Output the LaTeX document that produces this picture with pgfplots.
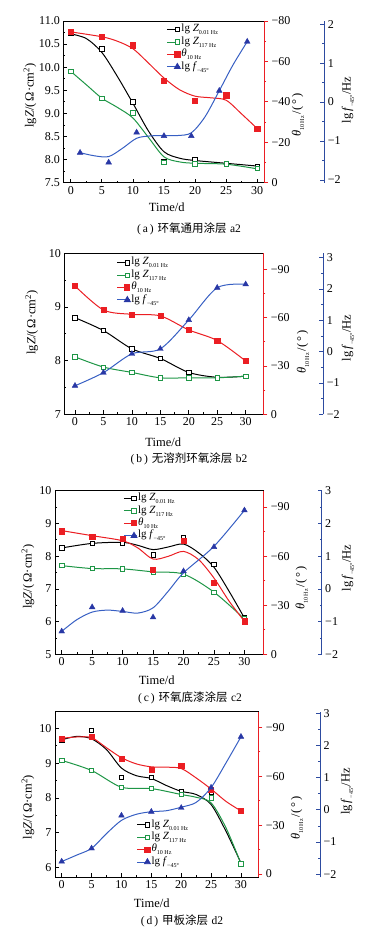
\documentclass[border=0pt]{standalone}
\usepackage{pgfplots}
\pgfplotsset{compat=1.18}
\usepackage{pgfplotstable}
\usepackage{fontspec}
\setmainfont{Liberation Serif}
\newfontfamily\cjk{Noto Sans CJK SC}
\definecolor{cgreen}{RGB}{30,150,70}
\definecolor{cred}{RGB}{235,30,35}
\definecolor{cblue}{RGB}{40,55,165}
\definecolor{cbline}{RGB}{55,95,195}
\definecolor{cbaxis}{RGB}{45,75,160}
\newcommand{\sub}[1]{\raisebox{-0.6ex}{\fontsize{6}{6}\selectfont #1}}
\newcommand{\fs}{\fontsize{12}{13}\selectfont}
\newcommand{\fl}{\fontsize{12.5}{14}\selectfont}
\pgfplotsset{
 /pgf/number format/assume math mode=true,
 tick label style={font=\fs},
 mainax/.style={scale only axis, anchor=south west, xtick={0,5,...,30}, minor x tick num=1, minor y tick num=1,
   xtick pos=bottom, ytick pos=left, tick align=inside, major tick length=4pt, minor tick length=2pt,
   axis line style={line width=0.8pt}, tick style={line width=0.7pt, black}},
 redax/.style={scale only axis, anchor=south west, axis y line*=right, axis x line=none, tick align=outside,
   minor y tick num=1, major tick length=4pt, minor tick length=2pt,
   y axis line style={cred, line width=0.8pt}, ytick style={cred, line width=0.7pt},
   ytick={0,30,60,90}, yticklabels={0,−30,−60,−90}},
 blueax/.style={scale only axis, anchor=south east, width=1pt, xmin=0, xmax=1, axis y line*=right, axis x line=none,
   tick align=inside, minor y tick num=1, major tick length=4pt, minor tick length=2pt,
   y axis line style={cbaxis, line width=0.8pt}, ytick style={cbaxis, line width=0.7pt},
   ytick={-2,-1,0,1,2,3}, yticklabels={−2,−1,0,1,2,3}},
 blueplot/.style={scale only axis, anchor=south west, hide axis, legend cell align=left,
   legend style={draw=none, fill=none, inner sep=0pt, outer sep=0pt, anchor=north west,
     font=\fontsize{11}{12}\selectfont, nodes={inner sep=0.8pt, text height=7.6pt, text depth=3.2pt}},
   legend image code/.code={\draw[mark repeat=2,mark phase=2,##1] plot coordinates {(0cm,0cm) (0.36cm,0cm) (0.46cm,0cm)};}},
 zlm/.style={only marks, mark=square*, mark size=2.2pt, mark options={draw=black, fill=white, line width=0.7pt}},
 zhm/.style={only marks, mark=square*, mark size=2.2pt, mark options={draw=cgreen, fill=white, line width=0.7pt}},
 thm/.style={only marks, mark=square*, mark size=2.6pt, mark options={draw=cred, fill=cred}},
 fm/.style={only marks, mark=triangle*, mark size=3.3pt, mark options={draw=cblue, fill=cblue}},
 zlc/.style={smooth, no marks, black, line width=1pt},
 zhc/.style={smooth, no marks, cgreen, line width=1pt},
 thc/.style={smooth, no marks, cred, line width=1pt},
 fc/.style={smooth, no marks, cbline, line width=1pt},
 legimgs/.style={},
}
\newcommand{\legs}{%
 \addlegendimage{black, line width=0.9pt, mark=square*, mark size=2.2pt, mark options={fill=white, line width=0.7pt}}
 \addlegendentry{lg \textit{Z}\sub{0.01 Hz}}
 \addlegendimage{cgreen, line width=0.9pt, mark=square*, mark size=2.2pt, mark options={fill=white, line width=0.7pt}}
 \addlegendentry{lg \textit{Z}\sub{117 Hz}}
 \addlegendimage{cred, line width=0.9pt, mark=square*, mark size=2.6pt, mark options={fill=cred}}
 \addlegendentry{\textit{θ}\sub{10 Hz}}
 \addlegendimage{cbline, line width=0.9pt, mark=triangle*, mark size=3.3pt, mark options={draw=cblue, fill=cblue}}
 \addlegendentry{lg \textit{f}\sub{−45°}}
}
% ---------- data ----------
\pgfplotstableread{
x zl zh th
0 10.73 9.91 74.6
5 10.40 9.32 72.1
10 9.25 9.01 68.0
15 7.95 7.94 50.4
20 7.99 7.91 40.5
25 7.92 7.91 43.3
30 7.86 7.81 26.8
}\Amk
\pgfplotstableread{
x f
1.5 -1.30
6.1 -1.55
10.6 -0.78
15.0 -0.87
19.4 -0.87
23.9 0.29
28.4 1.55
}\Afm
\pgfplotstableread{
x zl zh th f
0 8.80 8.07 79.7 -1.09
5 8.56 7.88 64.8 -0.67
10 8.22 7.78 62.1 -0.07
15 8.04 7.68 61.1 0.09
20 7.78 7.68 52.4 1.01
25 7.69 7.68 45.8 2.04
30 7.71 7.71 33.1 2.15
}\Bmk
\pgfplotstableread{
x zl zh th f
0 8.25 7.71 75.2 -1.30
5 8.39 7.62 72.1 -0.56
10 8.41 7.61 70.7 -0.67
15 8.04 7.52 51.7 -0.87
20 8.58 7.45 69.4 0.54
25 7.74 6.90 44.0 1.28
30 6.11 6.08 20.2 2.40
}\Cmk
\pgfplotstableread{
x zl zh th f
0 9.67 9.08 83.0 -1.61
5 9.94 8.79 84.2 -1.20
10 8.59 8.31 70.8 -0.18
15 8.59 8.27 64.0 -0.06
20 8.19 8.10 66.5 0.06
25 8.16 8.00 51.7 0.69
30 6.12 6.11 38.7 2.27
}\Dmk
\begin{document}
\begin{tikzpicture}
\path[use as bounding box] (0,0) rectangle (374pt,941pt);
% ================= (a) =================
\begin{axis}[mainax, at={(63.3pt,758.3pt)}, width=200.7pt, height=161.7pt,
  xmin=-1.2, xmax=31.1, ymin=7.5, ymax=11.0, ytick={7.5,8,8.5,9,9.5,10,10.5,11},
  yticklabel style={/pgf/number format/.cd, fixed, fixed zerofill, precision=1}]
\addplot[zlc] coordinates {(0,10.72)(2.5,10.62)(5,10.32)(7.5,9.8)(10,9.22)(12.5,8.62)(15,8.17)(17.5,8.03)(20,7.98)(25,7.92)(30,7.86)};
\addplot[zhc] coordinates {(0,9.91)(2.5,9.62)(5,9.33)(7.5,9.13)(10,8.9)(12.5,8.48)(15,8.06)(17.5,7.95)(20,7.92)(25,7.90)(30,7.80)};
\addplot[zlm] table[x=x,y=zl] {\Amk};
\addplot[zhm] table[x=x,y=zh] {\Amk};
\end{axis}
\begin{axis}[redax, at={(63.3pt,758.3pt)}, width=200.7pt, height=161.7pt,
  xmin=-1.2, xmax=31.1, ymin=0, ymax=80, ytick={0,20,40,60,80}, yticklabels={0,−20,−40,−60,−80}]
\addplot[thc] coordinates {(0,74.6)(5,72.2)(7.5,70)(10,66.3)(12.5,59.2)(15,51.8)(17.5,46)(20,42.8)(22.5,42)(25,40.8)(27.5,34)(30,26.8)};
\addplot[thm] table[x=x,y=th] {\Amk};
\end{axis}
\begin{axis}[blueax, at={(324.3pt,758.3pt)}, height=161.7pt, ymin=-2.07, ymax=2.08,
  ytick={-2,-1,0,1,2}, yticklabels={−2,−1,0,1,2}]
\addplot[draw=none] coordinates {(0,0)};
\end{axis}
\begin{axis}[blueplot, at={(63.3pt,758.3pt)}, width=200.7pt, height=161.7pt,
  xmin=-1.2, xmax=31.1, ymin=-2.07, ymax=2.08, legend style={at={(0.515,0.985)}}]
\legs
\addplot[fc, forget plot] coordinates {(1.5,-1.30)(3.8,-1.38)(6.1,-1.40)(8.3,-1.19)(10.6,-0.93)(12.8,-0.87)(15,-0.86)(17.2,-0.86)(19.4,-0.79)(21.6,-0.38)(23.9,0.29)(26.1,0.95)(28.4,1.55)};
\addplot[fm, forget plot] table[x=x,y=f] {\Afm};
\end{axis}
\node[rotate=90, font=\fl] at (30pt,845.5pt) {lg\textit{Z}/(\,Ω·cm\textsuperscript{2})};
\node[rotate=90, font=\fl] at (298pt,826pt) {\textit{θ}\sub{10 Hz}\,/(\,°\,)};
\node[rotate=90, font=\fl] at (348pt,841pt) {lg\,\textit{f}\sub{−45°}/Hz};
\node[font=\fl] at (166.7pt,734pt) {Time/d};
\node[font=\fontsize{11.5}{13}\selectfont] at (189pt,712pt) {(\,a\,)\hspace{0.35em}{\cjk 环氧通用涂层}\hspace{0.3em}a2};
% ================= (b) =================
\begin{axis}[mainax, at={(64.3pt,526.7pt)}, width=199pt, height=161pt,
  xmin=-1.88, xmax=33.1, ymin=7, ymax=10, ytick={7,8,9,10}]
\addplot[zlc] table[x=x,y=zl] {\Bmk};
\addplot[zhc] table[x=x,y=zh] {\Bmk};
\addplot[zlm] table[x=x,y=zl] {\Bmk};
\addplot[zhm] table[x=x,y=zh] {\Bmk};
\end{axis}
\begin{axis}[redax, at={(64.3pt,526.7pt)}, width=199pt, height=161pt,
  xmin=-1.88, xmax=33.1, ymin=0, ymax=100]
\addplot[thc] table[x=x,y=th] {\Bmk};
\addplot[thm] table[x=x,y=th] {\Bmk};
\end{axis}
\begin{axis}[blueax, at={(323.3pt,526.7pt)}, height=161pt, ymin=-2, ymax=3.14]
\addplot[draw=none] coordinates {(0,0)};
\end{axis}
\begin{axis}[blueplot, at={(64.3pt,526.7pt)}, width=199pt, height=161pt,
  xmin=-1.88, xmax=33.1, ymin=-2, ymax=3.14, legend style={at={(0.263,0.98)}}]
\legs
\addplot[fc, forget plot] table[x=x,y=f] {\Bmk};
\addplot[fm, forget plot] table[x=x,y=f] {\Bmk};
\end{axis}
\node[rotate=90, font=\fl] at (31.7pt,618.5pt) {lg\textit{Z}/(\,Ω·cm\textsuperscript{2})};
\node[rotate=90, font=\fl] at (303pt,589pt) {\textit{θ}\sub{10 Hz}\,/(\,°\,)};
\node[rotate=90, font=\fl] at (348pt,603pt) {lg\,\textit{f}\sub{−45°}/Hz};
\node[font=\fl] at (163.3pt,499pt) {Time/d};
\node[font=\fontsize{11.5}{13}\selectfont] at (189pt,482pt) {(\,b\,)\hspace{0.35em}{\cjk 无溶剂环氧涂层}\hspace{0.3em}b2};
% ================= (c) =================
\begin{axis}[mainax, at={(55pt,286.7pt)}, width=208.3pt, height=163.6pt,
  xmin=-1.1, xmax=33.1, ymin=5, ymax=10, ytick={5,6,7,8,9,10}]
\addplot[zlc] coordinates {(0,8.25)(5,8.39)(10,8.42)(12.5,8.33)(15,8.20)(17.5,8.28)(20,8.37)(22.5,8.10)(25,7.66)(27.5,6.92)(30,6.11)};
\addplot[zhc] table[x=x,y=zh] {\Cmk};
\addplot[zlm] table[x=x,y=zl] {\Cmk};
\addplot[zhm] table[x=x,y=zh] {\Cmk};
\end{axis}
\begin{axis}[redax, at={(55pt,286.7pt)}, width=208.3pt, height=163.6pt,
  xmin=-1.1, xmax=33.1, ymin=0, ymax=100]
\addplot[thc] coordinates {(0,75.6)(5,72.5)(10,69.4)(12.5,65)(15,58.2)(17.5,59.9)(20,62.9)(22.5,57.8)(25,46.6)(27.5,32.4)(30,20.2)};
\addplot[thm] table[x=x,y=th] {\Cmk};
\end{axis}
\begin{axis}[blueax, at={(321.7pt,286.7pt)}, height=163.6pt, ymin=-2, ymax=3]
\addplot[draw=none] coordinates {(0,0)};
\end{axis}
\begin{axis}[blueplot, at={(55pt,286.7pt)}, width=208.3pt, height=163.6pt,
  xmin=-1.1, xmax=33.1, ymin=-2, ymax=3, legend style={at={(0.328,0.99)}}]
\legs
\addplot[fc, forget plot] coordinates {(0,-1.30)(2.5,-0.94)(5,-0.71)(7.5,-0.65)(10,-0.69)(12.5,-0.74)(15,-0.58)(17.5,-0.07)(20,0.49)(25,1.30)(30,2.40)};
\addplot[fm, forget plot] table[x=x,y=f] {\Cmk};
\end{axis}
\node[rotate=90, font=\fl] at (28pt,364.3pt) {lg\textit{Z}/(\,Ω·cm\textsuperscript{2})};
\node[rotate=90, font=\fl] at (301.7pt,353pt) {\textit{θ}\sub{10 Hz}\,/(\,°\,)};
\node[rotate=90, font=\fl] at (348pt,373pt) {lg\,\textit{f}\sub{−45°}/Hz};
\node[font=\fl] at (156.7pt,261pt) {Time/d};
\node[font=\fontsize{11.5}{13}\selectfont] at (190pt,243pt) {(\,c\,)\hspace{0.35em}{\cjk 环氧底漆涂层}\hspace{0.3em}c2};
% ================= (d) =================
\begin{axis}[mainax, at={(55pt,63.7pt)}, width=203.3pt, height=165.6pt,
  xmin=-1.12, xmax=32.9, ymin=5.72, ymax=10.48, ytick={6,7,8,9,10}]
\addplot[zlc] coordinates {(0,9.67)(2.5,9.77)(5,9.70)(7.5,9.39)(10,8.86)(12.5,8.64)(15,8.56)(17.5,8.36)(20,8.19)(22.5,8.10)(25,7.81)(27.5,7.04)(30,6.13)};
\addplot[zhc] coordinates {(0,9.08)(5,8.79)(10,8.31)(15,8.27)(20,8.10)(22.5,8.02)(25,7.86)(27.5,7.14)(30,6.11)};
\addplot[zlm] table[x=x,y=zl] {\Dmk};
\addplot[zhm] table[x=x,y=zh] {\Dmk};
\end{axis}
\begin{axis}[redax, at={(55pt,63.7pt)}, width=203.3pt, height=165.6pt,
  xmin=-1.12, xmax=32.9, ymin=-2, ymax=99.5]
\addplot[thc] coordinates {(0,83.2)(2.5,84)(5,83.6)(7.5,77.4)(10,71.3)(12.5,67.5)(15,65.7)(17.5,65.5)(20,64.7)(22.5,58.9)(25,52.1)(27.5,44.5)(30,38.7)};
\addplot[thm] table[x=x,y=th] {\Dmk};
\end{axis}
\begin{axis}[blueax, at={(320pt,63.7pt)}, height=165.6pt, ymin=-2.1, ymax=3.05]
\addplot[draw=none] coordinates {(0,0)};
\end{axis}
\begin{axis}[blueplot, at={(55pt,63.7pt)}, width=203.3pt, height=165.6pt,
  xmin=-1.12, xmax=32.9, ymin=-2.1, ymax=3.05, legend style={at={(0.402,0.354)}}]
\legs
\addplot[fc, forget plot] coordinates {(0,-1.61)(2.5,-1.41)(5,-1.20)(7.5,-0.74)(10,-0.33)(12.5,-0.14)(15,-0.06)(17.5,-0.03)(20,0.08)(22.5,0.23)(25,0.69)(27.5,1.46)(30,2.27)};
\addplot[fm, forget plot] table[x=x,y=f] {\Dmk};
\end{axis}
\node[rotate=90, font=\fl] at (28pt,134pt) {lg\textit{Z}/(\,Ω·cm\textsuperscript{2})};
\node[rotate=90, font=\fl] at (297pt,123pt) {\textit{θ}\sub{10 Hz}\,/(\,°\,)};
\node[rotate=90, font=\fl] at (347pt,149.3pt) {lg\,\textit{f}\sub{−45°}/Hz};
\node[font=\fl] at (151.7pt,38pt) {Time/d};
\node[font=\fontsize{11.5}{13}\selectfont] at (182pt,20pt) {(\,d\,)\hspace{0.35em}{\cjk 甲板涂层}\hspace{0.3em}d2};
\end{tikzpicture}
\end{document}
